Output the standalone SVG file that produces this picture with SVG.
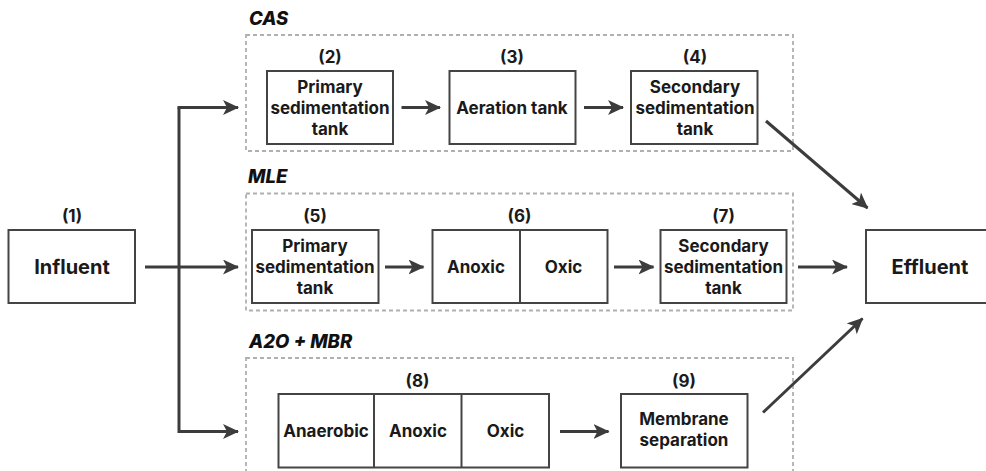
<svg xmlns="http://www.w3.org/2000/svg" width="986" height="471" viewBox="0 0 986 471">
<style>
.box{fill:#fff;stroke:#444;stroke-width:2}
.grp{fill:none;stroke:#b0b0b0;stroke-width:1.8;stroke-dasharray:4 3}
.t{font-family:Inter,"Liberation Sans",sans-serif;font-weight:700;font-size:17px;fill:#1a1a1a;text-anchor:middle}
.big{font-size:20px}
.g{font-family:Inter,"Liberation Sans",sans-serif;font-weight:800;font-style:italic;font-size:18.5px;fill:#111}
.c{fill:none;stroke:#3c3c3c;stroke-width:3}
</style>
<defs>
<marker id="ah" markerUnits="userSpaceOnUse" markerWidth="17" markerHeight="15" refX="15" refY="7.5" orient="auto">
<path d="M0,0 L16,7.5 L0,15 L4,7.5 Z" fill="#3c3c3c"/>
</marker>
</defs>
<rect width="986" height="471" fill="#fff"/>
<g id="groups">
<rect class="grp" x="246" y="35" width="547" height="116"/>
<text class="g" x="249" y="25">CAS</text>
<rect class="grp" x="246" y="193.5" width="547" height="117"/>
<text class="g" x="248" y="183">MLE</text>
<rect class="grp" x="246" y="358" width="547" height="130"/>
<text class="g" x="249" y="348">A2O + MBR</text>
</g>
<g id="n1">
<rect class="box" x="8.5" y="230" width="126.5" height="73"/>
<text class="t" x="72" y="222">(1)</text>
<text class="t big" x="72" y="274">Influent</text>
</g>
<g id="n2">
<rect class="box" x="267" y="71" width="126" height="73"/>
<text class="t" x="330" y="63">(2)</text>
<text class="t" x="330" y="93">Primary</text>
<text class="t" x="330" y="114">sedimentation</text>
<text class="t" x="330" y="135">tank</text>
</g>
<g id="n3">
<rect class="box" x="449.5" y="71" width="126" height="73"/>
<text class="t" x="512" y="63">(3)</text>
<text class="t" x="512" y="114">Aeration tank</text>
</g>
<g id="n4">
<rect class="box" x="631" y="71" width="126.5" height="73"/>
<text class="t" x="695" y="63">(4)</text>
<text class="t" x="695" y="93">Secondary</text>
<text class="t" x="695" y="114">sedimentation</text>
<text class="t" x="695" y="135">tank</text>
</g>
<g id="n5">
<rect class="box" x="252" y="230" width="126.5" height="73"/>
<text class="t" x="315" y="222">(5)</text>
<text class="t" x="315" y="252">Primary</text>
<text class="t" x="315" y="273">sedimentation</text>
<text class="t" x="315" y="294">tank</text>
</g>
<g id="n6">
<rect class="box" x="432.5" y="230" width="175" height="73"/>
<line class="box" x1="520" y1="230" x2="520" y2="303"/>
<text class="t" x="519.5" y="222">(6)</text>
<text class="t" x="476" y="273">Anoxic</text>
<text class="t" x="563.5" y="273">Oxic</text>
</g>
<g id="n7">
<rect class="box" x="660.5" y="230" width="126" height="73"/>
<text class="t" x="723.5" y="222">(7)</text>
<text class="t" x="723.5" y="252">Secondary</text>
<text class="t" x="723.5" y="273">sedimentation</text>
<text class="t" x="723.5" y="294">tank</text>
</g>
<g id="n8">
<rect class="box" x="278.5" y="394" width="270.5" height="73.5"/>
<line class="box" x1="374" y1="394" x2="374" y2="467.5"/>
<line class="box" x1="461.5" y1="394" x2="461.5" y2="467.5"/>
<text class="t" x="417.5" y="386.5">(8)</text>
<text class="t" x="326" y="437">Anaerobic</text>
<text class="t" x="418" y="437">Anoxic</text>
<text class="t" x="505.5" y="437">Oxic</text>
</g>
<g id="n9">
<rect class="box" x="621" y="394" width="126.5" height="73.5"/>
<text class="t" x="684" y="386.5">(9)</text>
<text class="t" x="684" y="425">Membrane</text>
<text class="t" x="684" y="446">separation</text>
</g>
<g id="n10">
<rect class="box" x="866" y="230" width="127" height="73"/>
<text class="t big" x="930" y="274">Effluent</text>
</g>
<g id="connectors">
<path class="c" d="M179,107.5 V431.5 H238" marker-end="url(#ah)"/>
<line class="c" x1="177.5" y1="107.5" x2="238" y2="107.5" marker-end="url(#ah)"/>
<line class="c" x1="145" y1="267" x2="238" y2="267" marker-end="url(#ah)"/>
<line class="c" x1="401.5" y1="107.5" x2="440" y2="107.5" marker-end="url(#ah)"/>
<line class="c" x1="584" y1="107.5" x2="623" y2="107.5" marker-end="url(#ah)"/>
<line class="c" x1="766" y1="121" x2="867.5" y2="208" marker-end="url(#ah)"/>
<line class="c" x1="385" y1="267" x2="423.5" y2="267" marker-end="url(#ah)"/>
<line class="c" x1="614" y1="267" x2="653.5" y2="267" marker-end="url(#ah)"/>
<line class="c" x1="798" y1="267" x2="847" y2="267" marker-end="url(#ah)"/>
<line class="c" x1="560" y1="431.5" x2="608.5" y2="431.5" marker-end="url(#ah)"/>
<line class="c" x1="763" y1="412.5" x2="862.5" y2="318.5" marker-end="url(#ah)"/>
</g>
</svg>
